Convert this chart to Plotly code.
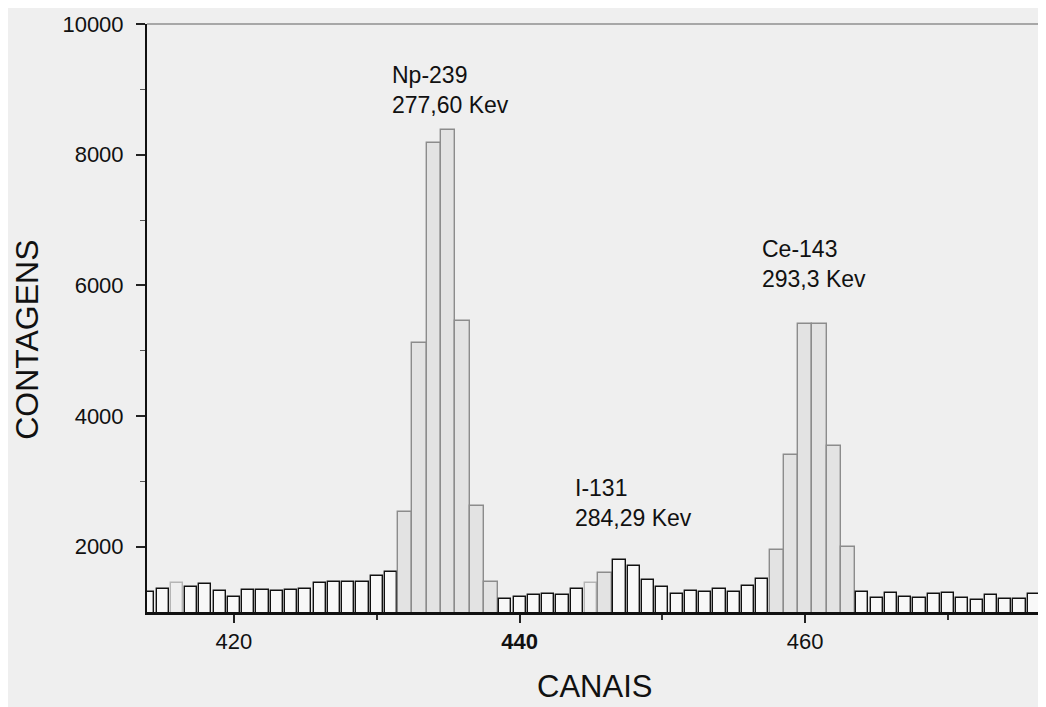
import plotly.graph_objects as go

# ---- data ----
channels = list(range(414, 477))
counts = [
    1305, 1356, 1450, 1381, 1433, 1316, 1229, 1341, 1341, 1320,   # 414-423
    1341, 1356, 1448, 1457, 1457, 1452, 1544, 1615, 2530, 5110,   # 424-433
    8180, 8380, 5460, 2620, 1455, 1205, 1229, 1255, 1280, 1265,   # 434-443
    1356, 1440, 1600, 1790, 1711, 1494, 1381, 1280, 1316, 1305,   # 444-453
    1346, 1305, 1396, 1509, 1950, 3400, 5415, 5415, 3540, 1990,   # 454-463
    1305, 1214, 1290, 1229, 1219, 1280, 1290, 1219, 1179, 1255,   # 464-473
    1204, 1194, 1270,                                             # 474-476
]
peak_channels = [432, 433, 434, 435, 436, 437, 438, 446,
                 458, 459, 460, 461, 462, 463]
faint_channels = [416, 445]

x_tick_vals = [420, 440, 460]
x_tick_text = ["420", "<b>440</b>", "460"]
y_tick_vals = [2000, 4000, 6000, 8000, 10000]
y_tick_text = ["2000", "4000", "6000", "8000", "10000"]

peak_labels = [
    ("Np-239", "277,60 Kev", 430.92, 9452),
    ("I-131", "284,29 Kev", 443.74, 3125),
    ("Ce-143", "293,3 Kev", 456.83, 6791),
]

# ---- styling ----
BG = "#efefef"
fills, lines, widths = [], [], []
for c in channels:
    if c in peak_channels:
        fills.append("#e3e3e3"); lines.append("#8c8c8c"); widths.append(1.0)
    elif c in faint_channels:
        fills.append(BG); lines.append("#b5b5b5"); widths.append(0.85)
    else:
        fills.append("#f8f8f8"); lines.append("#111111"); widths.append(0.85)

FONT = "Liberation Sans, Arial, sans-serif"

fig = go.Figure()
fig.add_trace(go.Bar(
    x=channels, y=counts, width=widths,
    marker=dict(color=fills, line=dict(color=lines, width=1.4)),
    hoverinfo="x+y", showlegend=False,
))

for name, energy, cx, cy in peak_labels:
    fig.add_annotation(x=cx, y=cy, xref="x", yref="y", xanchor="left", yanchor="top",
                       text=f"{name}<br>{energy}", showarrow=False, align="left",
                       font=dict(family=FONT, size=23, color="#111111"))

fig.add_annotation(text="CANAIS", xref="paper", yref="paper", x=0.5, y=-0.1275,
                   xanchor="center", yanchor="middle", showarrow=False,
                   font=dict(family=FONT, size=31, color="#111111"))
fig.add_annotation(text="CONTAGENS", xref="paper", yref="paper", x=-0.134, y=0.463,
                   xanchor="center", yanchor="middle", textangle=-90, showarrow=False,
                   font=dict(family=FONT, size=32, color="#111111"))

# faint top and right frame lines
fig.add_shape(type="line", xref="paper", yref="paper", x0=0, x1=1, y0=1, y1=1,
              line=dict(color="#8f8f8f", width=1.5))
fig.add_shape(type="line", xref="paper", yref="paper", x0=1, x1=1, y0=0, y1=1,
              line=dict(color="#8f8f8f", width=1.5))

fig.update_layout(
    width=1038, height=699,
    margin=dict(l=139, r=4, t=12, b=95),
    paper_bgcolor=BG, plot_bgcolor=BG,
    bargap=0,
    font=dict(family=FONT, size=22, color="#111111"),
    xaxis=dict(
        range=[413.91, 476.58], showgrid=False, zeroline=False,
        showline=True, linecolor="#111111", linewidth=2.5,
        tickmode="array", tickvals=x_tick_vals, ticktext=x_tick_text,
        ticks="outside", ticklen=8, tickwidth=2, tickcolor="#222222",
        ticklabelstandoff=0, ticklabeloverflow="allow",
        minor=dict(tickvals=[430, 450, 470], ticks="outside", ticklen=5,
                   tickwidth=1.5, tickcolor="#333333"),
        tickfont=dict(family=FONT, size=22, color="#111111"),
    ),
    yaxis=dict(
        range=[1000, 10000], showgrid=False, zeroline=False,
        showline=True, linecolor="#111111", linewidth=2,
        tickmode="array", tickvals=y_tick_vals, ticktext=y_tick_text,
        ticks="outside", ticklen=9, tickwidth=2, tickcolor="#222222",
        ticklabelstandoff=8, ticklabeloverflow="allow",
        minor=dict(tickvals=[3000, 5000, 7000, 9000], ticks="outside", ticklen=5,
                   tickwidth=1.2, tickcolor="#555555"),
        tickfont=dict(family=FONT, size=22, color="#111111"),
    ),
)

fig.write_html("out.html")
